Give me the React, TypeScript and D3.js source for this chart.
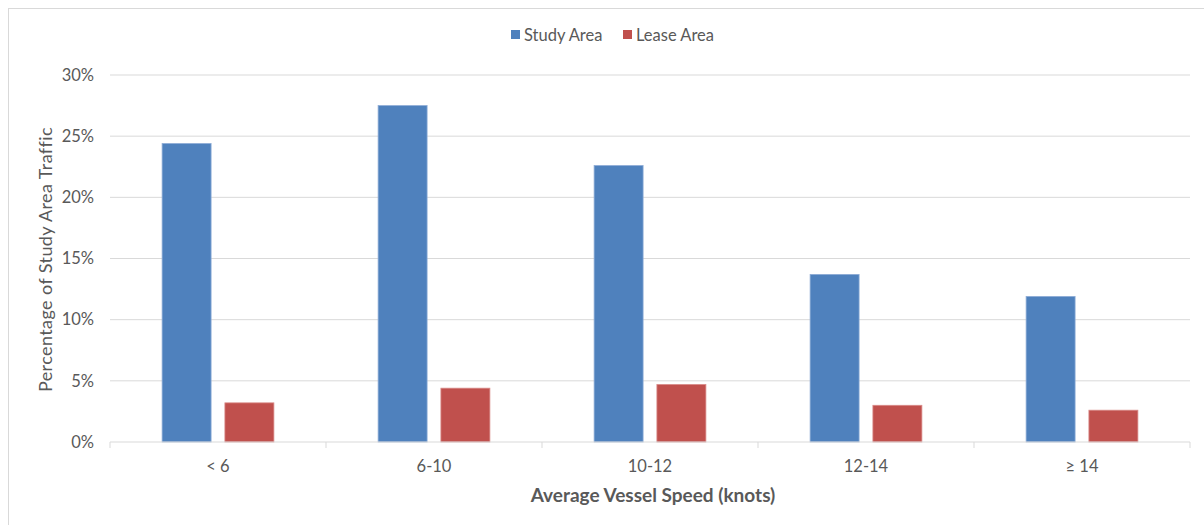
import React from "react";
import * as d3 from "d3";

const categories = ["< 6", "6-10", "10-12", "12-14", "≥ 14"];
const seriesNames = ["Study Area", "Lease Area"];
const studyArea = [24.4, 27.5, 22.6, 13.7, 11.9];
const leaseArea = [3.2, 4.4, 4.7, 3.0, 2.6];
const yTicks = [0, 5, 10, 15, 20, 25, 30];
const colors = ["#4F81BD", "#C0504D"];

const W = 1204;
const H = 525;
const margin = { left: 110, right: 14, top: 75, bottom: 83 };
const FONT = "Lato, 'Open Sans', sans-serif";

export default function App() {
  const x = d3
    .scaleBand<string>()
    .domain(categories)
    .range([margin.left, W - margin.right])
    .paddingInner(0)
    .paddingOuter(0);
  const y = d3.scaleLinear().domain([0, 30]).range([H - margin.bottom, margin.top]);
  const inner = d3
    .scaleBand<string>()
    .domain(seriesNames)
    .range([0, x.bandwidth()])
    .paddingInner(0.22)
    .paddingOuter(0.83);
  const series = [studyArea, leaseArea];
  const y0 = y(0);
  const textColor = "#595959";

  return (
    <svg
      width={W}
      height={H}
      style={{ position: "absolute", left: 0, top: 0, background: "#fff" }}
    >
      <rect x={8.5} y={8.5} width={1205} height={530} fill="#fff" stroke="#D9D9D9" />
      {yTicks.map((t) => (
        <g key={t}>
          {t > 0 && (
            <line x1={margin.left} x2={W - margin.right} y1={y(t)} y2={y(t)} stroke="#D9D9D9" strokeWidth={1} />
          )}
          <text
            x={94}
            y={y(t)}
            dy="0.35em"
            textAnchor="end"
            fontFamily={FONT}
            fontSize={16.5}
            fill={textColor}
          >
            {t}%
          </text>
        </g>
      ))}
      {series.map((vals, si) =>
        categories.map((c, ci) => (
          <rect
            key={`${si}-${ci}`}
            x={(x(c) ?? 0) + (inner(seriesNames[si]) ?? 0)}
            y={y(vals[ci])}
            width={inner.bandwidth()}
            height={y0 - y(vals[ci])}
            fill={colors[si]}
            stroke={si === 0 ? "#8EACD6" : "#D98A88"}
            strokeWidth={0.8}
          />
        ))
      )}
      <line x1={margin.left} x2={W - margin.right} y1={y0} y2={y0} stroke="#D9D9D9" strokeWidth={1} />
      {[...categories.map((c) => x(c) ?? 0), W - margin.right].map((bx, i) => (
        <line key={i} x1={bx} x2={bx} y1={y0} y2={y0 + 6} stroke="#D9D9D9" />
      ))}
      {categories.map((c) => (
        <text
          key={c}
          x={(x(c) ?? 0) + x.bandwidth() / 2}
          y={466}
          dy="0.35em"
          textAnchor="middle"
          fontFamily={FONT}
          fontSize={16.5}
          fill={textColor}
        >
          {c}
        </text>
      ))}
      <text
        x={653}
        y={495}
        dy="0.35em"
        textAnchor="middle"
        fontFamily={FONT}
        fontSize={19}
        fontWeight="bold"
        fill={textColor}
      >
        Average Vessel Speed (knots)
      </text>
      <text
        transform={`translate(46, ${(y(0) + y(30)) / 2 + 1}) rotate(-90)`}
        dy="0.35em"
        textAnchor="middle"
        fontFamily={FONT}
        fontSize={18}
        letterSpacing={0.4}
        fill={textColor}
      >
        Percentage of Study Area Traffic
      </text>
      {seriesNames.map((s, i) => {
        const lx = [511, 623][i];
        return (
          <g key={s}>
            <rect x={lx} y={30} width={9} height={9} fill={colors[i]} />
            <text x={lx + 13} y={35} dy="0.35em" fontFamily={FONT} fontSize={16.5} fill={textColor}>
              {s}
            </text>
          </g>
        );
      })}
    </svg>
  );
}
